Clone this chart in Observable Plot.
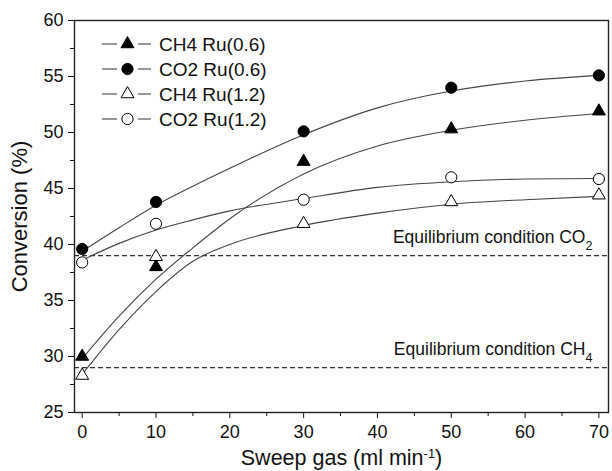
<!DOCTYPE html>
<html><head><meta charset="utf-8">
<script src="https://cdn.jsdelivr.net/npm/d3@7"></script>
<script src="https://cdn.jsdelivr.net/npm/@observablehq/plot@0.6"></script>
<style>
body{margin:0;background:#fff}
svg{font-family:"Liberation Sans",Arial,sans-serif}
</style>
</head><body><div id="chart"></div>
<script>
// measured points
const sweepGas = [0, 10, 30, 50, 70];
const ch4Ru06 = [30.0, 38.0, 47.4, 50.3, 51.9];
const co2Ru06 = [39.6, 43.8, 50.1, 54.0, 55.1];
const ch4Ru12 = [28.3, 38.9, 41.85, 43.8, 44.4];
const co2Ru12 = [38.4, 41.85, 44.0, 46.0, 45.85];
// fitted curves
const fitX = [0, 5, 10, 15, 20, 30, 40, 50, 60, 70];
const fitCh4Ru06 = [29.8, 33.6, 36.9, 39.7, 42.3, 46.3, 48.8, 50.2, 51.1, 51.7];
const fitCo2Ru06 = [39.4, 41.5, 43.5, 45.2, 46.8, 49.8, 52.2, 53.7, 54.6, 55.1];
const fitCh4Ru12 = [28.4, 32.4, 35.8, 38.5, 40.0, 41.7, 42.8, 43.6, 44.0, 44.3];
const fitCo2Ru12 = [38.6, 40.1, 41.3, 42.2, 43.0, 44.1, 45.1, 45.6, 45.85, 45.9];
const seriesNames = ["CH4 Ru(0.6)", "CO2 Ru(0.6)", "CH4 Ru(1.2)", "CO2 Ru(1.2)"];
const seriesSymbols = ["triangle", "circle", "triangle", "circle"];
const seriesFilled = [true, true, false, false];
const eqLevels = [39, 29];
const eqLabels = ["Equilibrium condition CO2", "Equilibrium condition CH4"];
const yTicks = [25, 30, 35, 40, 45, 50, 55, 60];
const xTicks = [0, 10, 20, 30, 40, 50, 60, 70];
const yTitle = "Conversion (%)";
const xTitle = ["Sweep gas (ml min", "-1", ")"];

const pointSets = [ch4Ru06, co2Ru06, ch4Ru12, co2Ru12];
const fitSets = [fitCh4Ru06, fitCo2Ru06, fitCh4Ru12, fitCo2Ru12];
const points = pointSets.flatMap((vals, i) => vals.map((v, j) => ({x: sweepGas[j], y: v, s: i})));
const fits = fitSets.flatMap((vals, i) => vals.map((v, j) => ({x: fitX[j], y: v, s: i})));
const eq = eqLevels.map((v, i) => ({y: v, label: eqLabels[i]}));
const triR = 4.8, cirR = 5.6;
const dotStyle = {x: "x", y: "y", fill: d => seriesFilled[d.s] ? "#000" : "#fff", stroke: "#000", strokeWidth: 1};

const chart = Plot.plot({
  width: 612, height: 471,
  marginLeft: 74, marginRight: 4, marginTop: 20, marginBottom: 59,
  style: {fontSize: "18px", color: "#111"},
  x: {domain: [-1.04, 71.3]},
  y: {domain: [25, 60]},
  marks: [
    Plot.ruleY(eq, {y: "y", stroke: "#333", strokeWidth: 1.2, strokeDasharray: "5,3"}),
    Plot.text(eq, {y: "y", text: "label", frameAnchor: "right", textAnchor: "end", dx: -16, dy: -18.5, fontSize: 17.5, fill: "#111"}),
    Plot.line(fits, {x: "x", y: "y", z: "s", curve: "monotone-x", stroke: "#444", strokeWidth: 1.1}),
    Plot.dot(points.filter(d => seriesSymbols[d.s] === "triangle"), {...dotStyle, symbol: "triangle", r: triR}),
    Plot.dot(points.filter(d => seriesSymbols[d.s] === "circle"), {...dotStyle, symbol: "circle", r: cirR}),
    Plot.axisY(d3.range(27.5, 60, 5), {tickSize: 4, tickFormat: () => "", label: null, stroke: "#111"}),
    Plot.axisY(yTicks, {tickSize: 6, tickPadding: 5, label: "YTITLE", labelAnchor: "center", labelOffset: 63, fontSize: 18, stroke: "#111"}),
    Plot.axisX(d3.range(5, 71, 10), {tickSize: 4, tickFormat: () => "", label: null, stroke: "#111"}),
    Plot.axisX(xTicks, {tickSize: 6, tickPadding: 7, label: "XTITLE", labelAnchor: "center", labelOffset: 52, fontSize: 18, stroke: "#111"}),
    Plot.frame({stroke: "#222", strokeWidth: 1.4})
  ]
});
document.getElementById("chart").append(chart);
const svg = d3.select(chart);

// subscripts / superscripts and axis titles
svg.selectAll("text").each(function() {
  const t = d3.select(this);
  const s = this.textContent;
  if (s.startsWith("Equilibrium condition")) {
    t.text(null);
    t.append("tspan").text(s.slice(0, -1));
    t.append("tspan").attr("baseline-shift", "sub").attr("font-size", "0.72em").text(s.slice(-1));
  } else if (s.includes("XTITLE")) {
    t.text(null).attr("font-size", 21.5);
    t.append("tspan").text(xTitle[0]);
    t.append("tspan").attr("baseline-shift", "super").attr("font-size", "0.6em").text(xTitle[1]);
    t.append("tspan").text(xTitle[2]);
  } else if (s.includes("YTITLE")) {
    t.text(yTitle).attr("font-size", 22);
  }
});

// legend inside frame (top-left)
const xs = chart.scale("x"), ys = chart.scale("y");
const fx = xs.range[0], fy = Math.min(...ys.range);
const lg = svg.append("g").attr("transform", `translate(${fx},${fy})`);
seriesNames.forEach((name, i) => {
  const yy = 24 + i * 25;
  const g = lg.append("g").attr("transform", `translate(0,${yy})`);
  g.append("line").attr("x1", 28).attr("x2", 43).attr("y1", 0).attr("y2", 0).attr("stroke", "#444").attr("stroke-width", 1.1);
  g.append("line").attr("x1", 64).attr("x2", 77).attr("y1", 0).attr("y2", 0).attr("stroke", "#444").attr("stroke-width", 1.1);
  const r = seriesSymbols[i] === "triangle" ? triR : cirR;
  const sym = seriesSymbols[i] === "triangle" ? d3.symbolTriangle : d3.symbolCircle;
  g.append("path").attr("transform", "translate(53.5,0)").attr("d", d3.symbol(sym, r * r * Math.PI)())
    .attr("fill", seriesFilled[i] ? "#000" : "#fff").attr("stroke", "#000").attr("stroke-width", 1);
  g.append("text").attr("x", 85).attr("y", 0).attr("dy", "0.35em").attr("text-anchor", "start")
    .attr("font-size", 19).attr("fill", "#111").text(name);
});
</script>
</body></html>
